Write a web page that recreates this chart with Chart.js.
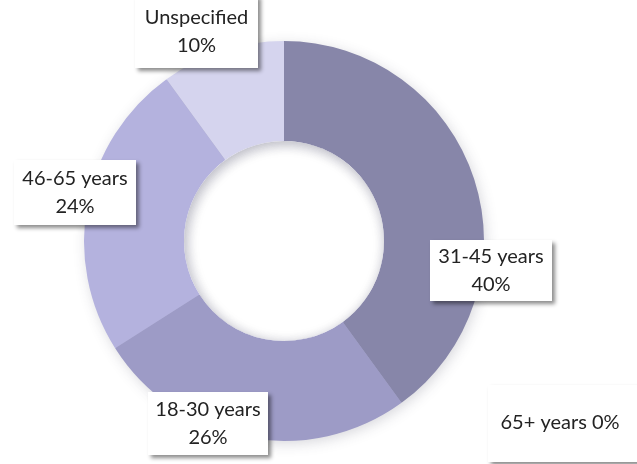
<!DOCTYPE html>
<html>
<head>
<meta charset="utf-8">
<script src="https://cdn.jsdelivr.net/npm/chart.js@4.4.1/dist/chart.umd.min.js"></script>
<style>
  html, body { margin: 0; padding: 0; background: #ffffff; }
  #wrap { width: 637px; height: 464px; position: relative; }
</style>
</head>
<body>
<div id="wrap"><canvas id="c" width="637" height="464"></canvas></div>
<script>
// ---- data ----
const categories = ["31-45 years", "65+ years", "18-30 years", "46-65 years", "Unspecified"];
const shares = [40, 0, 26, 24, 10];
const colors = ["#8786a9", "#8786a9", "#9d9bc6", "#b4b2de", "#d5d4ee"];

// ---- label box layout (offsets from doughnut centre; pure presentation) ----
const labelLayout = [
  { box: [146, -1, 122, 61], lines: 2, tx: 0 },     // 31-45
  { box: [204, 144, 160, 77], lines: 1, tx: -8 },   // 65+
  { box: [-136, 151, 120, 63], lines: 2, tx: 0 },   // 18-30
  { box: [-270, -81, 122, 65], lines: 2, tx: 0 },   // 46-65
  { box: [-149, -246, 123, 73], lines: 2, tx: 0 }   // Unspecified
];

const ringShadow = {
  id: 'ringShadow',
  beforeDatasetsDraw(chart) {
    const arc = chart.getDatasetMeta(0).data[0];
    if (!arc) return;
    const ctx = chart.ctx;
    ctx.save();
    ctx.shadowColor = 'rgba(60,60,80,0.22)';
    ctx.shadowBlur = 14;
    ctx.shadowOffsetX = 2;
    ctx.shadowOffsetY = 3;
    ctx.fillStyle = '#a0a0c0';
    ctx.beginPath();
    ctx.arc(arc.x, arc.y, arc.outerRadius - 1, 0, Math.PI * 2);
    ctx.arc(arc.x, arc.y, arc.innerRadius + 1, 0, Math.PI * 2, true);
    ctx.fill();
    ctx.restore();
  },
  afterDatasetsDraw(chart) {
    const arc = chart.getDatasetMeta(0).data[0];
    if (!arc) return;
    const ctx = chart.ctx;
    ctx.save();
    ctx.beginPath();
    ctx.arc(arc.x, arc.y, arc.innerRadius, 0, Math.PI * 2);
    ctx.clip();
    ctx.shadowColor = 'rgba(60,60,90,0.25)';
    ctx.shadowBlur = 12;
    ctx.shadowOffsetX = 2;
    ctx.shadowOffsetY = 3;
    ctx.lineWidth = 10;
    ctx.strokeStyle = 'rgba(255,255,255,1)';
    ctx.beginPath();
    ctx.arc(arc.x, arc.y, arc.innerRadius + 5, 0, Math.PI * 2);
    ctx.stroke();
    ctx.restore();
  }
};

const labelBoxes = {
  id: 'labelBoxes',
  afterDraw(chart) {
    const meta = chart.getDatasetMeta(0);
    const cx = meta.data[0].x, cy = meta.data[0].y;
    const ctx = chart.ctx;
    const data = chart.data.datasets[0].data;
    chart.data.labels.forEach((lab, i) => {
      const L = labelLayout[i];
      const [dx, dy, w, h] = L.box;
      const x = cx + dx, y = cy + dy;
      ctx.save();
      ctx.shadowColor = 'rgba(0,0,0,0.45)';
      ctx.shadowBlur = 4;
      ctx.shadowOffsetX = 3;
      ctx.shadowOffsetY = 3;
      ctx.fillStyle = '#ffffff';
      ctx.fillRect(x, y, w, h);
      ctx.restore();
      ctx.save();
      ctx.fillStyle = '#232323';
      ctx.font = '20px Lato, "Open Sans", sans-serif';
      ctx.textAlign = 'center';
      ctx.textBaseline = 'middle';
      const pct = data[i] + '%';
      const tx = x + w / 2 + L.tx;
      if (L.lines === 1) {
        ctx.fillText(lab + ' ' + pct, tx, y + h / 2 - 1);
      } else {
        ctx.fillText(lab, tx, y + h / 2 - 14);
        ctx.fillText(pct, tx, y + h / 2 + 14);
      }
      ctx.restore();
    });
  }
};

new Chart(document.getElementById('c'), {
  type: 'doughnut',
  data: {
    labels: categories,
    datasets: [{
      data: shares,
      backgroundColor: colors,
      borderWidth: 0,
      hoverOffset: 0
    }]
  },
  options: {
    responsive: false,
    animation: false,
    cutout: '50%',
    rotation: 0,
    layout: { padding: { left: 84, right: 153, top: 41, bottom: 23 } },
    plugins: { legend: { display: false }, tooltip: { enabled: false } }
  },
  plugins: [ringShadow, labelBoxes]
});
</script>
</body>
</html>
